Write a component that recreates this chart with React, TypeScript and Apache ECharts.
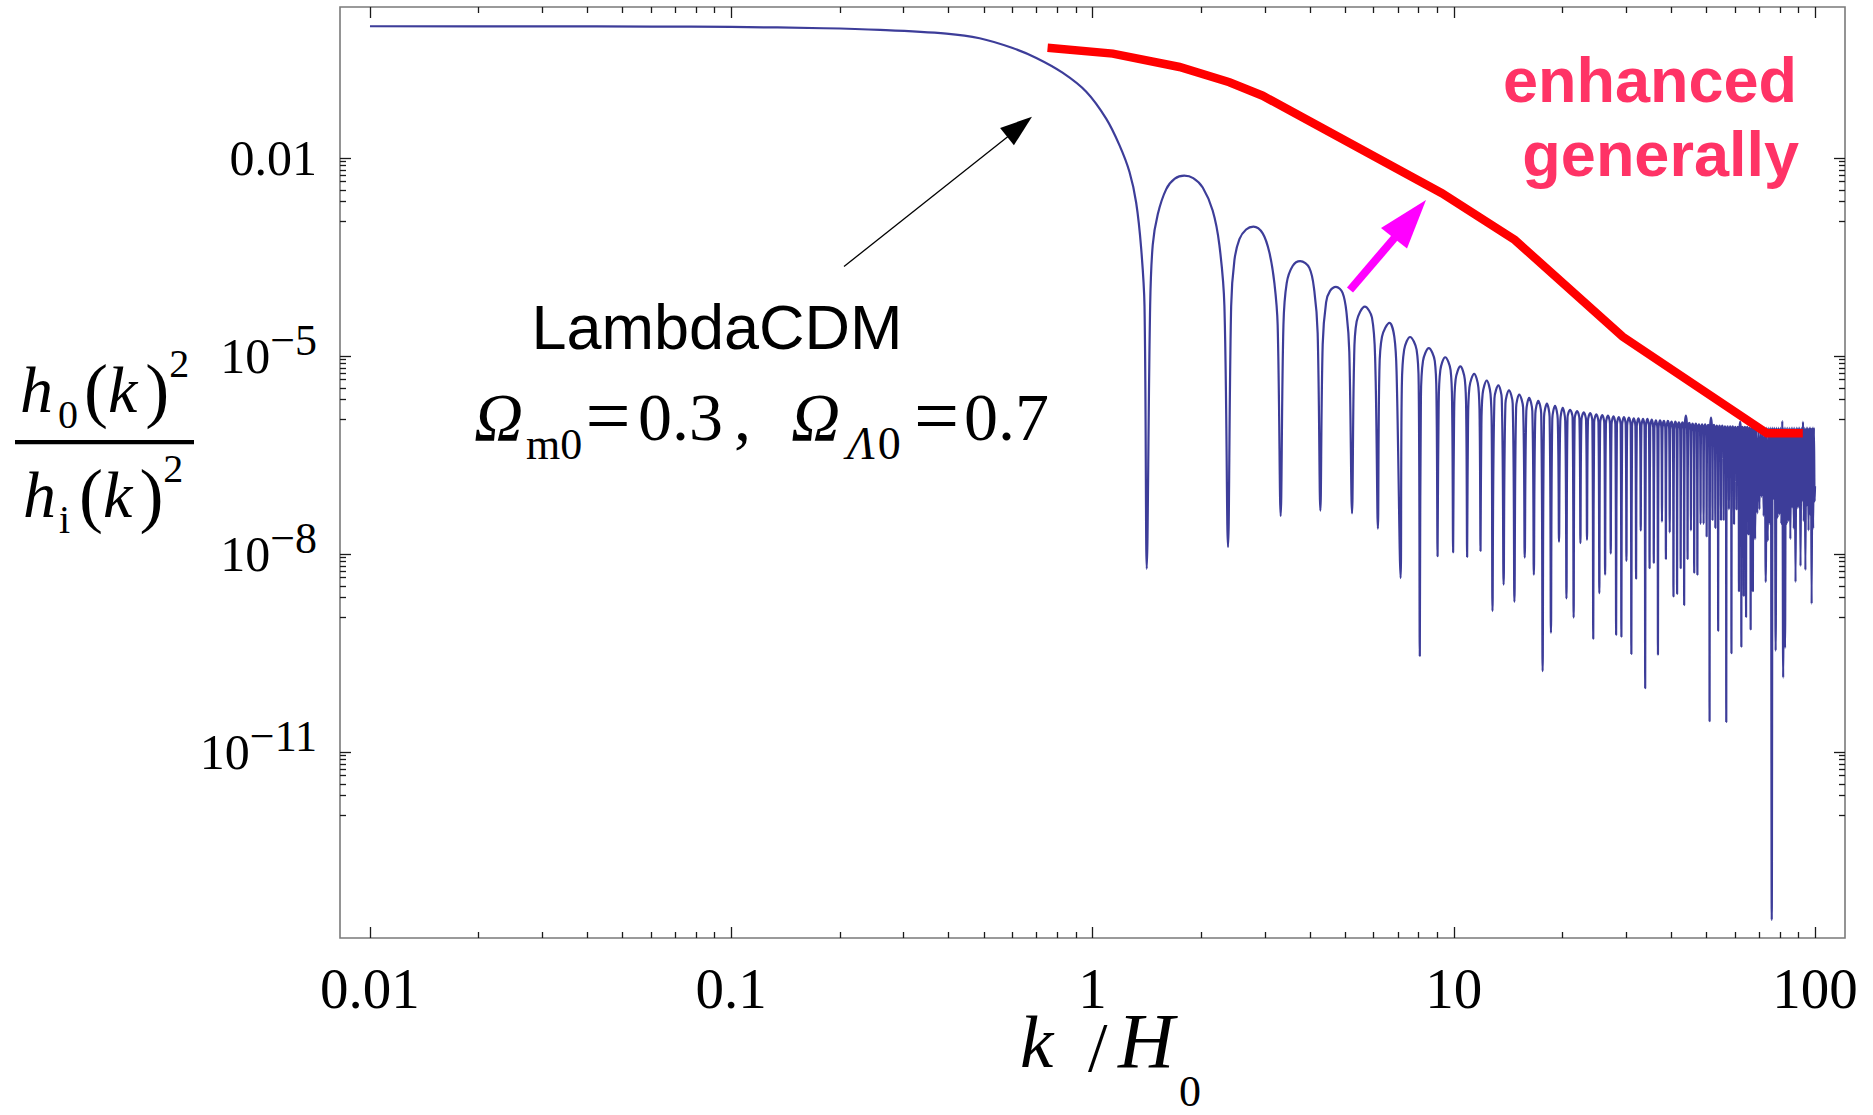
import React, { useEffect, useRef } from "react";
import * as echarts from "echarts";

// ---------------- axis ticks ----------------
const xTickValues = [-2, -1, 0, 1, 2];
const xTickLabels = ["0.01", "0.1", "1", "10", "100"];
const yTickValues = [-2, -5, -8, -11];
const yTickBase = ["0.01", "10", "10", "10"];
const yTickExp = ["", "\u22125", "\u22128", "\u221211"];

// axis ranges (log10 units)
const X_MIN = -2.083;
const X_MAX = 2.083;
const Y_MIN = -13.814;
const Y_MAX = 0.292;

// ---------------- blue curve: k/H0 and log10(h0^2/hi^2) ----------------
const plateauK = [0.01, 0.03, 0.06, 0.1, 0.18, 0.258, 0.394, 0.487, 0.601, 0.699, 0.826, 0.961, 1.091, 1.188, 1.266, 1.321, 1.364, 1.393];
const plateauLog = [0.0, -0.001, -0.004, -0.01, -0.03, -0.055, -0.112, -0.182, -0.33, -0.48, -0.703, -0.992, -1.4, -1.805, -2.208, -2.674, -3.371, -4.238];

const dipK = [
  1.413, 2.372, 3.318, 4.273, 5.229, 6.166, 7.126, 8.054, 9.02, 9.96,
  10.89, 11.86, 12.8, 13.74, 14.72, 15.72, 16.66, 17.62, 18.58, 19.56,
  20.51, 21.47, 22.42, 23.38, 24.33, 25.29, 26.24, 27.2, 28.15, 29.11,
  30.06, 31.02, 31.97, 32.93, 33.88, 34.84, 35.79, 36.75, 37.7, 38.66,
  39.61, 40.57, 41.52, 42.48, 43.43, 44.39, 45.34, 46.3, 47.25, 48.21,
  49.16, 50.12, 51.07, 52.03, 52.98, 53.94, 54.89, 55.85, 56.8, 57.76,
  58.71, 59.67, 60.62, 61.58, 62.53, 63.49, 64.44, 65.4, 66.35, 67.31,
  68.26, 69.22, 70.17, 71.13, 72.08, 73.04, 73.99, 74.95, 75.9, 76.86,
  77.81, 78.77, 79.72, 80.68, 81.63, 82.59, 83.54, 84.5, 85.45, 86.41,
  87.36, 88.32, 89.27, 90.23, 91.18, 92.14, 93.09, 94.05, 95.0, 95.96,
  96.91, 97.87, 98.82, 99.78,
];
const dipLog = [
  -8.22, -7.89, -7.42, -7.34, -7.38, -7.61, -8.36, -9.54, -8.03, -7.97,
  -8.04, -7.95, -8.86, -8.46, -8.72, -8.05, -8.31, -9.77, -9.19, -7.81,
  -8.67, -8.96, -7.83, -7.78, -9.28, -8.59, -8.31, -7.99, -9.22, -9.25,
  -8.1, -9.51, -8.37, -7.64, -10.03, -8.21, -8.13, -9.52, -7.51, -8.07,
  -7.67, -8.64, -8.6, -8.21, -8.77, -8.07, -7.64, -8.28, -8.31, -7.54,
  -7.54, -7.73, -10.53, -7.48, -7.6, -9.16, -7.48, -7.48, -10.54, -7.32,
  -9.5, -7.54, -7.32, -8.56, -9.4, -8.63, -8.95, -7.7, -9.14, -8.56,
  -7.77, -7.38, -7.32, -7.13, -7.42, -8.42, -7.8, -7.54, -13.54, -7.16,
  -9.46, -7.45, -7.4, -7.54, -9.87, -9.42, -7.54, -7.5, -7.77, -7.29,
  -7.61, -8.42, -7.3, -7.29, -8.18, -7.19, -7.5, -8.24, -7.26, -7.64,
  -7.4, -8.75, -7.61, -7.2,
];

const peakK = [
  1.795, 2.789, 3.758, 4.72, 5.675, 6.64, 7.57, 8.53, 9.47, 10.43,
  11.39, 12.34, 13.29, 14.22, 15.18, 16.17, 17.14, 18.11, 19.07, 20.03,
  20.99, 21.95, 22.9, 23.86, 24.81, 25.77, 26.72, 27.68, 28.63, 29.59,
  30.54, 31.5, 32.45, 33.41, 34.36, 35.32, 36.27, 37.23, 38.18, 39.14,
  40.09, 41.05, 42.0, 42.96, 43.91, 44.87, 45.82, 46.78, 47.73, 48.69,
  49.64, 50.6, 51.55, 52.51, 53.46, 54.42, 55.37, 56.33, 57.28, 58.24,
  59.19, 60.15, 61.1, 62.06, 63.01, 63.97, 64.92, 65.88, 66.83, 67.79,
  68.74, 69.7, 70.65, 71.61, 72.56, 73.52, 74.47, 75.43, 76.38, 77.34,
  78.29, 79.25, 80.2, 81.16, 82.11, 83.07, 84.02, 84.98, 85.93, 86.89,
  87.84, 88.8, 89.75, 90.71, 91.66, 92.62, 93.57, 94.53, 95.48, 96.44,
  97.39, 98.35, 99.3,
];
const peakLog = [
  -2.264, -3.036, -3.558, -3.947, -4.248, -4.494, -4.708, -4.877, -5.015, -5.153,
  -5.267, -5.367, -5.442, -5.518, -5.58, -5.63, -5.674, -5.718, -5.75, -5.78,
  -5.81, -5.83, -5.85, -5.86, -5.88, -5.89, -5.9, -5.91, -5.92, -5.92,
  -5.93, -5.94, -5.94, -5.95, -5.95, -5.96, -5.97, -5.97, -5.98, -5.98,
  -5.99, -5.99, -6.0, -6.0, -5.9, -6.01, -6.02, -6.02, -6.03, -6.03,
  -6.03, -6.04, -5.93, -6.04, -6.05, -6.05, -6.05, -6.06, -6.06, -6.06,
  -6.06, -6.07, -6.07, -5.99, -6.07, -6.07, -6.07, -6.08, -6.08, -6.08,
  -6.08, -6.08, -6.08, -6.08, -6.08, -6.08, -6.08, -6.08, -6.08, -6.08,
  -6.08, -6.08, -6.08, -5.98, -6.08, -6.08, -6.08, -6.08, -6.08, -6.08,
  -6.08, -6.08, -6.08, -6.08, -6.08, -5.99, -6.08, -6.08, -6.08, -6.08,
  -6.08, -6.08, -6.08,
];

// shoulder points of the broad lobes (read from the arches)
const archK = [
  1.444, 1.468, 1.516, 1.599, 1.69, 1.9, 2.019, 2.151, 2.245, 2.318,
  2.42, 2.471, 2.551, 2.662, 2.959, 3.088, 3.188, 3.255,
  3.377, 3.448, 3.581, 3.983, 4.112, 4.2,
  4.337, 4.432, 4.545, 4.924, 5.052, 5.139,
  5.296, 5.385, 5.938, 6.064,
  6.222, 6.329, 6.847, 6.949,
  7.18, 7.29, 7.89, 8.0,
  8.11, 8.22, 8.86, 8.96,
  9.08, 9.18, 9.8, 9.9,
  10.02, 10.12, 10.73, 10.83,
  10.95, 11.05, 11.7, 11.8,
  11.92, 12.02, 12.64, 12.74,
  12.96, 13.58, 13.9, 14.56, 14.88, 15.56, 15.88, 16.5,
  16.82, 17.46, 17.78, 18.42, 18.74, 19.4, 19.72, 20.35,
];
const archLog = [
  -4.238, -3.314, -2.848, -2.471, -2.31, -2.3, -2.442, -2.791, -3.314, -4.238,
  -4.241, -3.544, -3.226, -3.08, -3.138, -3.429, -3.892, -4.53,
  -4.53, -3.892, -3.632, -3.661, -4.009, -4.647,
  -4.82, -4.182, -4.009, -4.038, -4.356, -4.936,
  -5.11, -4.473, -4.415, -5.11,
  -5.283, -4.705, -4.705, -5.283,
  -5.5, -4.9, -4.9, -5.5,
  -5.68, -5.07, -5.07, -5.68,
  -5.82, -5.21, -5.21, -5.82,
  -5.95, -5.35, -5.35, -5.95,
  -6.07, -5.47, -5.47, -6.07,
  -6.17, -5.57, -5.57, -6.17,
  -5.64, -5.64, -5.72, -5.72, -5.78, -5.78, -5.83, -5.83,
  -5.87, -5.87, -5.92, -5.92, -5.95, -5.95, -5.98, -5.98,
];

// steep-walled shoulders of the narrow lobes 21..70 (left and right side)
const shoulderLeftK = [
  20.65, 21.61, 22.56, 23.52, 24.47, 25.43, 26.38, 27.34, 28.29, 29.25,
  30.2, 31.16, 32.11, 33.07, 34.02, 34.98, 35.93, 36.89, 37.84, 38.8,
  39.75, 40.71, 41.66, 42.62, 43.57, 44.53, 45.48, 46.44, 47.39, 48.35,
  49.3, 50.26, 51.21, 52.17, 53.12, 54.08, 55.03, 55.99, 56.94, 57.9,
  58.85, 59.81, 60.76, 61.72, 62.67, 63.63, 64.58, 65.54, 66.49, 67.45,
];
const shoulderRightK = [
  21.33, 22.28, 23.24, 24.19, 25.15, 26.1, 27.06, 28.01, 28.97, 29.92,
  30.88, 31.83, 32.79, 33.74, 34.7, 35.65, 36.61, 37.56, 38.52, 39.47,
  40.43, 41.38, 42.34, 43.29, 44.25, 45.2, 46.16, 47.11, 48.07, 49.02,
  49.98, 50.93, 51.89, 52.84, 53.8, 54.75, 55.71, 56.66, 57.62, 58.57,
  59.53, 60.48, 61.44, 62.39, 63.35, 64.3, 65.26, 66.21, 67.17, 68.12,
];
const shoulderLog = [
  -5.93, -5.95, -5.97, -5.98, -6.0, -6.01, -6.02, -6.03, -6.04, -6.04,
  -6.05, -6.06, -6.06, -6.07, -6.07, -6.08, -6.09, -6.09, -6.1, -6.1,
  -6.11, -6.11, -6.12, -6.12, -6.13, -6.13, -6.14, -6.14, -6.15, -6.15,
  -6.15, -6.16, -6.16, -6.16, -6.17, -6.17, -6.17, -6.18, -6.18, -6.18,
  -6.18, -6.19, -6.19, -6.19, -6.19, -6.19, -6.19, -6.2, -6.2, -6.2,
];

const endK = [100];
const endLog = [-6.97];

// ---------------- red "enhanced" curve ----------------
const redK = [0.751, 1.138, 1.741, 2.393, 2.958, 9.27, 14.76, 29.35, 73.6, 92.5];
const redLog = [-0.326, -0.414, -0.617, -0.848, -1.052, -2.53, -3.238, -4.703, -6.167, -6.167];

// ---------------- styles ----------------
const SERIF = '"Liberation Serif", "Times New Roman", serif';
const SANS = '"Liberation Sans", Arial, sans-serif';
const BLUE = "#3D3D99";
const RED = "#FF0000";
const PINK = "#FF3366";
const MAGENTA = "#FF00FF";
const FRAME = "#7a7a7a";
const TICK = "#1a1a1a";

function buildBlue(): number[][] {
  const pts: number[][] = [];
  const add = (ks: number[], ls: number[]) => {
    const n = Math.min(ks.length, ls.length);
    for (let i = 0; i < n; i++) pts.push([ks[i], ls[i]]);
  };
  add(plateauK, plateauLog);
  add(dipK, dipLog);
  add(peakK, peakLog);
  add(archK, archLog);
  add(shoulderLeftK, shoulderLog);
  add(shoulderRightK, shoulderLog);
  add(endK, endLog);
  pts.sort((a, b) => a[0] - b[0]);
  return pts.map(([k, l]) => [Math.log10(k), l]);
}

function txt(text: string, left: number, baseline: number, size: number, o: any = {}) {
  const k = o.sans ? 0.3465 : 0.3375;
  return {
    type: "text",
    x: left,
    y: baseline - k * size,
    silent: true,
    z: 50,
    style: {
      text,
      fill: o.fill || "#000",
      fontSize: size,
      fontFamily: o.sans ? SANS : SERIF,
      fontStyle: o.italic ? "italic" : "normal",
      fontWeight: o.bold ? "bold" : "normal",
      textAlign: o.align || "left",
      textVerticalAlign: "middle",
      verticalAlign: "middle",
      lineHeight: o.lh || Math.round(size * 0.8),
      rich: o.rich,
    },
  };
}

// rich styles for the fraction (y-axis title)
const fracRich = (subPadLeft: number, lpPad: number, rpPad: number) => ({
  h: { fontFamily: SERIF, fontSize: 66, fontStyle: "italic", color: "#000" },
  sub: { fontFamily: SERIF, fontSize: 40, color: "#000", padding: [50, 0, 0, subPadLeft] },
  lp: { fontFamily: SERIF, fontSize: 72, color: "#000", padding: [0, 0, 0, lpPad] },
  rp: { fontFamily: SERIF, fontSize: 72, color: "#000", padding: [0, 0, 0, rpPad] },
  sup: { fontFamily: SERIF, fontSize: 40, color: "#000", padding: [0, 0, 52, 0] },
});

export default function App() {
  const ref = useRef<HTMLDivElement>(null);

  useEffect(() => {
    if (!ref.current) return;
    const chart = echarts.init(ref.current, null, { renderer: "svg", width: 1873, height: 1115 });

    const xMinor: number[] = [];
    for (let d = -2; d <= 1; d++) for (let m = 2; m <= 9; m++) xMinor.push(d + Math.log10(m));
    const yMinor: number[] = [];
    for (const v of yTickValues) for (let j = 1; j <= 8; j++) yMinor.push(v + Math.log10(j / 9));

    const mkX = (position: string, vals: number[], len: number, labels: boolean) => ({
      type: "value",
      position,
      min: X_MIN,
      max: X_MAX,
      axisLine: { show: false, onZero: false },
      splitLine: { show: false },
      axisTick: { show: true, inside: true, length: len, customValues: vals, lineStyle: { color: TICK, width: 1.3 } },
      axisLabel: labels
        ? {
            show: true,
            customValues: xTickValues,
            formatter: (v: number) => {
              const i = xTickValues.indexOf(Math.round(v));
              return i >= 0 ? xTickLabels[i] : "";
            },
            fontFamily: SERIF,
            fontSize: 57,
            lineHeight: 46,
            color: "#000",
            margin: 27,
          }
        : { show: false },
    });
    const mkY = (position: string, vals: number[], len: number, labels: boolean) => ({
      type: "value",
      position,
      min: Y_MIN,
      max: Y_MAX,
      axisLine: { show: false, onZero: false },
      splitLine: { show: false },
      axisTick: { show: true, inside: true, length: len, customValues: vals, lineStyle: { color: TICK, width: 1.3 } },
      axisLabel: labels
        ? {
            show: true,
            customValues: yTickValues,
            formatter: (v: number) => {
              const i = yTickValues.indexOf(Math.round(v));
              if (i < 0) return "";
              if (!yTickExp[i]) return yTickBase[i];
              return "{b|" + yTickBase[i] + "}{s|" + yTickExp[i] + "}";
            },
            fontFamily: SERIF,
            fontSize: 50,
            color: "#000",
            margin: 23,
            rich: {
              b: { fontFamily: SERIF, fontSize: 50, color: "#000" },
              s: { fontFamily: SERIF, fontSize: 44, color: "#000", padding: [0, 0, 32, 0] },
            },
          }
        : { show: false },
    });

    const blueData = buildBlue();
    const redData = redK.map((k, i) => [Math.log10(k), redLog[i]]);

    const graphics: any[] = [
      // y-axis title: h0(k)^2 / hi(k)^2
      txt("{h|h}{sub|0}{lp|(}{h|k}{rp|)}{sup|2}", 20, 412, 66, { rich: fracRich(5, 6, 8), lh: 92 }),
      { type: "rect", silent: true, z: 50, shape: { x: 15, y: 440, width: 179, height: 4.2 }, style: { fill: "#000" } },
      txt("{h|h}{sub|i}{lp|(}{h|k}{rp|)}{sup|2}", 23, 517, 66, { rich: fracRich(3, 9, 7), lh: 92 }),
      // x-axis title: k / H0
      txt("k", 1020, 1067, 75, { italic: true }),
      txt("/", 1088, 1071, 70),
      txt("H", 1118, 1067, 78, { italic: true }),
      txt("0", 1179, 1106, 44),
      // LambdaCDM annotation
      txt("LambdaCDM", 717, 349, 63, { sans: true, align: "center" }),
      txt("\u03A9", 474, 440, 68, { italic: true }),
      txt("m0", 526, 459, 44),
      txt("=", 608, 443, 80, { align: "center" }),
      txt("0.3", 638, 440, 68),
      txt(",", 734, 440, 68),
      txt("\u03A9", 791, 440, 68, { italic: true }),
      txt("{i|\u039B}{r|0}", 847, 459, 46, {
        rich: {
          i: { fontFamily: SERIF, fontSize: 46, fontStyle: "italic", color: "#000" },
          r: { fontFamily: SERIF, fontSize: 46, color: "#000", padding: [0, 0, 0, 3] },
        },
      }),
      txt("=", 936.5, 443, 80, { align: "center" }),
      txt("0.7", 964, 440, 68),
      // black arrow
      { type: "line", silent: true, z: 50, shape: { x1: 844, y1: 266.5, x2: 1008, y2: 136.5 }, style: { stroke: "#000", lineWidth: 1.3 } },
      { type: "polygon", silent: true, z: 50, shape: { points: [[1032, 116.7], [1013.9, 145.2], [1000.1, 128]] }, style: { fill: "#000" } },
      // magenta arrow
      { type: "line", silent: true, z: 50, shape: { x1: 1350, y1: 290, x2: 1397, y2: 235 }, style: { stroke: MAGENTA, lineWidth: 8 } },
      { type: "polygon", silent: true, z: 50, shape: { points: [[1426, 200], [1381, 228], [1407, 248.5]] }, style: { fill: MAGENTA } },
      // enhanced generally
      txt("enhanced", 1797, 101.5, 63, { sans: true, bold: true, align: "right", fill: PINK }),
      txt("generally", 1799, 175.5, 63, { sans: true, bold: true, align: "right", fill: PINK }),
    ];

    const option: any = {
      animation: false,
      backgroundColor: "#ffffff",
      grid: {
        left: 340,
        top: 7,
        width: 1505,
        height: 931,
        show: true,
        borderColor: FRAME,
        borderWidth: 1.6,
        backgroundColor: "transparent",
        containLabel: false,
      },
      xAxis: [
        mkX("bottom", xTickValues, 11, true),
        mkX("bottom", xMinor, 6, false),
        mkX("top", xTickValues, 11, false),
        mkX("top", xMinor, 6, false),
      ],
      yAxis: [
        mkY("left", yTickValues, 11, true),
        mkY("left", yMinor, 6, false),
        mkY("right", yTickValues, 11, false),
        mkY("right", yMinor, 6, false),
      ],
      series: [
        {
          type: "line",
          xAxisIndex: 0,
          yAxisIndex: 0,
          data: blueData,
          symbol: "none",
          showSymbol: false,
          silent: true,
          smooth: 0.35,
          z: 2,
          lineStyle: { color: BLUE, width: 2.2 },
        },
        {
          type: "line",
          xAxisIndex: 0,
          yAxisIndex: 0,
          data: redData,
          symbol: "none",
          showSymbol: false,
          silent: true,
          z: 3,
          lineStyle: { color: RED, width: 8.5, join: "miter", cap: "butt" },
        },
      ],
      graphic: { elements: graphics },
    };

    chart.setOption(option);
    return () => {
      chart.dispose();
    };
  }, []);

  return (
    <div
      ref={ref}
      style={{ position: "absolute", left: 0, top: 0, width: 1873, height: 1115, background: "#fff" }}
    />
  );
}
